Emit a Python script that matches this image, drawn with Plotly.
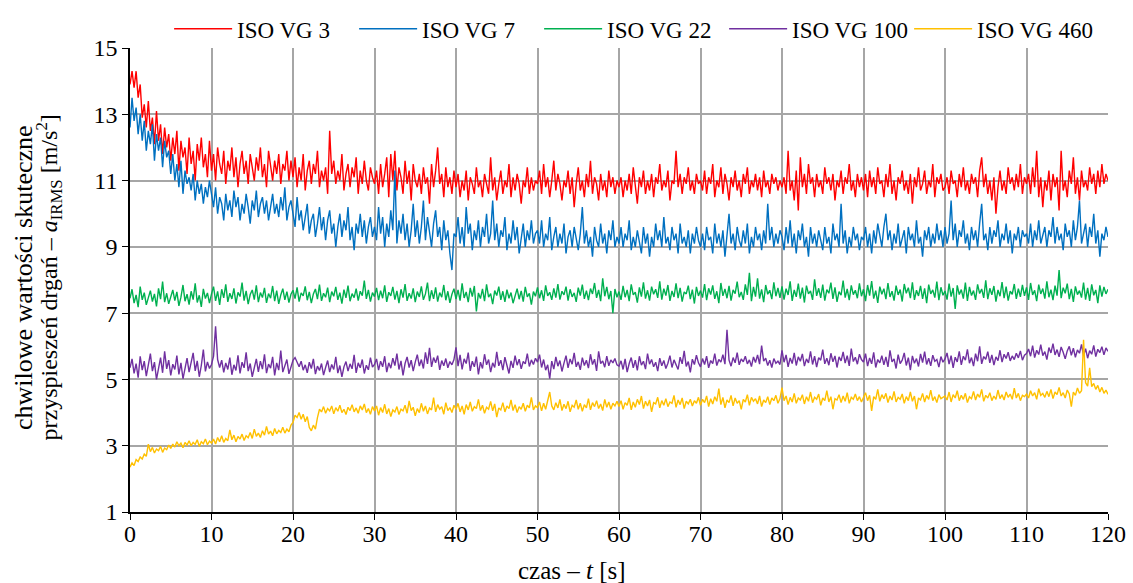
import numpy as np
import plotly.graph_objects as go

# Sampling step of the RMS acceleration records [s]
DT = 0.25

# ISO VG 3
vg3 = [
    13.9, 14.3, 13.8, 14.3, 13.5, 13.9, 12.9, 13.3, 12.6, 13.4,
    12.5, 12.9, 12.1, 13.1, 12.2, 12.7, 11.8, 12.6, 12.0, 12.4,
    11.6, 12.3, 11.8, 12.5, 11.3, 12.2, 11.7, 12.0, 11.2, 12.3,
    11.5, 11.9, 11.0, 12.1, 11.6, 12.3, 11.4, 11.8, 11.1, 12.2,
    11.3, 11.8, 11.0, 12.0, 11.5, 11.2, 11.9, 10.9, 11.6, 11.3,
    12.0, 11.1, 11.7, 10.8, 11.5, 11.9, 11.2, 11.6, 10.9, 11.8,
    11.4, 11.0, 11.7, 11.3, 12.0, 11.1, 11.5, 10.8, 11.9, 11.4,
    11.0, 11.6, 11.2, 11.8, 10.9, 11.5, 11.3, 11.9, 11.0, 11.6,
    11.1, 11.7, 10.8, 11.4, 11.0, 11.8, 10.7, 11.3, 11.6, 10.9,
    11.5, 11.2, 11.9, 10.8, 11.3, 11.0, 11.4, 10.6, 12.5, 11.2,
    11.6, 10.9, 11.3, 11.0, 11.8, 10.7, 11.2, 11.5, 10.8, 11.4,
    11.1, 11.7, 10.6, 11.3, 10.9, 11.6, 11.0, 10.7, 11.4, 11.1,
    10.9, 11.3, 10.6, 11.5, 10.8, 11.2, 11.7, 10.5, 11.8, 11.0,
    11.9, 10.7, 11.4, 11.1, 10.6, 11.6, 10.9, 11.3, 10.4, 11.5,
    11.0, 10.8, 11.2, 10.6, 11.4, 10.9, 11.1, 10.3, 11.5, 10.8,
    11.3, 12.0, 10.9, 11.2, 10.5, 11.4, 10.8, 11.1, 10.6, 11.3,
    10.8, 11.2, 10.5, 11.0, 10.7, 11.3, 10.4, 11.1, 10.9, 10.6,
    11.4, 10.8, 11.0, 10.5, 11.2, 10.9, 10.6, 11.7, 10.7, 11.1,
    10.4, 10.9, 11.3, 10.6, 11.0, 10.8, 11.5, 10.5, 11.1, 10.7,
    11.2, 10.9, 10.3, 11.0, 10.8, 11.4, 10.6, 11.1, 10.7, 11.0,
    10.9, 11.3, 10.6, 11.5, 10.8, 11.1, 10.5, 11.0, 11.6, 10.7,
    11.2, 10.9, 10.4, 11.0, 10.8, 11.3, 10.6, 11.1, 10.2, 10.9,
    11.4, 10.7, 11.0, 10.5, 11.2, 10.8, 11.6, 10.6, 11.1, 10.9,
    10.4, 11.2, 10.7, 11.0, 10.5, 11.3, 10.8, 11.1, 10.6, 11.0,
    10.8, 11.1, 10.5, 11.0, 10.7, 11.2, 10.6, 11.4, 10.9, 10.3,
    11.1, 10.8, 11.3, 10.6, 11.0, 10.7, 11.2, 10.5, 11.1, 10.9,
    11.5, 10.7, 11.0, 10.8, 11.3, 10.4, 11.0, 10.9, 11.9, 10.8,
    11.2, 10.6, 11.1, 10.9, 11.4, 10.7, 11.0, 10.6, 11.2, 10.9,
    11.0, 10.7, 11.3, 10.6, 11.1, 10.9, 11.5, 10.5, 11.0, 10.8,
    11.4, 10.6, 11.2, 10.9, 10.4, 11.1, 10.8, 11.3, 10.7, 11.0,
    10.5, 11.2, 10.9, 11.4, 10.6, 11.0, 10.8, 11.2, 10.7, 11.1,
    10.5, 11.3, 10.8, 11.0, 10.6, 11.2, 10.9, 11.1, 10.7, 11.0,
    10.8, 11.1, 10.6, 11.9, 10.7, 11.0, 10.4, 11.3, 10.1, 11.7,
    10.8, 11.2, 10.6, 11.5, 10.9, 11.1, 10.5, 11.2, 10.8, 11.0,
    10.6, 11.4, 10.9, 11.1, 10.7, 11.2, 10.4, 11.0, 10.8, 11.3,
    10.6, 11.1, 10.9, 11.5, 10.7, 11.0, 10.5, 11.2, 10.8, 11.1,
    10.7, 11.2, 10.5, 11.3, 10.8, 11.1, 10.6, 11.4, 10.9, 11.0,
    10.5, 11.2, 10.8, 11.5, 10.6, 11.0, 10.4, 11.1, 10.9, 11.3,
    10.7, 11.0, 10.6, 11.2, 10.3, 11.1, 10.8, 11.4, 10.7, 10.9,
    11.3, 10.6, 11.0, 10.8, 11.5, 10.5, 11.1, 10.9, 11.2, 10.7,
    10.8, 11.1, 10.6, 11.3, 10.9, 11.0, 10.5, 11.2, 10.8, 11.4,
    10.7, 11.0, 10.6, 11.2, 10.9, 11.1, 10.5, 11.3, 11.7, 10.8,
    11.2, 10.6, 11.0, 10.4, 11.1, 10.0, 10.8, 11.3, 10.7, 11.0,
    10.6, 11.4, 10.9, 11.1, 10.7, 11.2, 10.8, 11.5, 10.6, 11.1,
    10.9, 11.2, 10.6, 11.4, 10.8, 11.9, 10.5, 11.1, 10.2, 11.0,
    10.7, 11.3, 10.4, 11.2, 10.8, 11.1, 10.1, 11.9, 10.7, 11.0,
    10.5, 11.3, 10.9, 11.7, 10.6, 11.1, 10.4, 11.3, 10.8, 11.0,
    10.7, 11.4, 10.9, 11.2, 10.6, 11.3, 10.8, 11.5, 10.9, 11.2,
    11.0,
]

# ISO VG 7
vg7 = [
    12.6, 13.5, 12.8, 13.2, 12.4, 13.0, 12.2, 12.8, 11.9, 12.5,
    12.1, 12.7, 11.6, 12.4, 11.9, 12.3, 11.4, 12.2, 11.7, 11.9,
    11.2, 11.8, 11.0, 11.5, 10.8, 11.6, 10.6, 11.3, 10.9, 11.1,
    10.7, 11.2, 10.4, 11.0, 10.6, 10.9, 10.3, 10.8, 10.5, 11.0,
    10.6, 10.2, 10.8, 10.0, 10.5, 10.3, 9.8, 10.6, 10.1, 10.4,
    9.9, 10.7, 10.2, 10.5, 9.8, 10.3, 10.0, 10.6, 10.2, 9.7,
    10.4, 10.1, 10.7, 9.9, 10.3, 10.5, 10.0, 10.4, 9.8, 10.2,
    10.6, 10.0, 10.3, 9.9, 10.5, 10.1, 10.8, 9.8, 10.2, 10.4,
    10.0, 9.6, 10.5, 9.8, 10.1, 9.5, 9.9, 10.3, 9.4, 9.8,
    10.0, 9.3, 9.7, 10.2, 9.5, 9.9, 9.2, 9.8, 10.1, 9.4,
    9.7, 9.0, 9.6, 10.0, 9.3, 9.8, 9.5, 10.2, 9.2, 9.6,
    8.9, 9.7, 9.4, 10.0, 9.3, 9.8, 9.1, 9.6, 9.9, 9.3,
    9.6, 9.2, 10.2, 9.4, 9.9, 9.0, 9.7, 9.3, 10.1, 9.5,
    11.3, 9.1, 9.8, 9.4, 10.0, 9.2, 9.7, 9.0, 9.5, 10.3,
    9.3, 9.8, 9.1, 9.6, 10.4, 9.2, 9.9, 9.4, 9.0, 9.7,
    10.1, 9.3, 9.6, 8.9, 9.8, 9.2, 9.5, 8.8, 8.3, 9.4,
    9.3, 9.9, 9.1, 9.6, 9.0, 10.2, 9.4, 9.7, 8.9, 9.5,
    9.2, 9.8, 9.0, 9.6, 9.3, 10.0, 9.1, 9.4, 10.4, 9.2,
    9.7, 9.0, 9.5, 9.3, 9.9, 8.9, 9.4, 9.1, 9.8, 9.2,
    9.6, 8.8, 9.3, 9.7, 9.0, 9.5, 9.2, 9.8, 9.1, 9.4,
    9.5, 9.1, 9.8, 9.0, 9.4, 9.2, 9.9, 8.9, 9.3, 9.6,
    9.0, 9.4, 9.1, 9.7, 8.8, 9.3, 9.5, 9.0, 9.6, 9.2,
    8.9, 9.4, 10.2, 9.1, 9.5, 9.0, 9.3, 8.7, 9.6, 9.2,
    9.0, 9.7, 9.1, 9.4, 8.8, 9.5, 9.2, 9.8, 9.0, 9.3,
    9.1, 9.6, 9.0, 9.4, 9.2, 9.8, 8.9, 9.3, 9.0, 9.5,
    9.2, 8.8, 9.6, 9.1, 9.4, 8.7, 9.3, 9.0, 9.7, 9.2,
    9.5, 9.0, 9.9, 9.1, 9.3, 8.9, 9.6, 9.2, 9.4, 8.8,
    9.7, 9.1, 9.3, 9.0, 9.5, 8.8, 9.4, 9.1, 9.6, 9.2,
    9.0, 9.4, 8.9, 9.6, 9.2, 9.3, 8.8, 9.7, 9.1, 9.4,
    9.0, 9.5, 8.7, 9.3, 10.0, 9.1, 9.4, 8.9, 9.6, 9.2,
    9.0, 9.5, 9.1, 9.7, 8.8, 9.3, 9.0, 9.6, 9.2, 9.4,
    8.9, 9.5, 9.1, 10.3, 9.2, 9.6, 9.0, 9.4, 9.1, 9.5,
    9.3, 8.9, 9.6, 9.1, 9.8, 9.0, 9.4, 8.8, 9.5, 9.2,
    9.7, 9.0, 9.3, 8.7, 9.6, 9.1, 9.4, 9.0, 9.5, 9.2,
    8.9, 9.6, 9.1, 9.3, 8.8, 9.7, 9.2, 9.4, 9.0, 10.3,
    9.1, 9.5, 8.8, 9.3, 9.0, 9.6, 9.2, 9.4, 8.9, 9.3,
    9.2, 9.6, 9.0, 9.4, 8.8, 9.5, 9.1, 9.7, 9.3, 9.0,
    9.6, 10.0, 9.2, 9.5, 8.9, 9.4, 9.1, 9.7, 9.0, 9.3,
    9.5, 8.8, 9.6, 9.2, 9.4, 9.0, 9.8, 9.1, 9.3, 8.7,
    9.5, 9.2, 9.6, 9.0, 9.4, 9.1, 9.7, 9.2, 9.5, 9.0,
    9.6, 9.1, 9.4, 10.4, 9.2, 9.7, 9.0, 9.5, 9.3, 9.8,
    9.1, 9.4, 8.9, 9.6, 9.2, 9.5, 9.0, 9.7, 10.3, 9.2,
    9.4, 8.9, 9.6, 9.1, 9.5, 9.3, 9.8, 9.0, 9.4, 9.2,
    9.7, 9.1, 9.5, 8.8, 9.4, 9.2, 9.6, 9.0, 9.5, 9.3,
    9.4, 9.1, 9.7, 9.0, 9.5, 9.2, 9.8, 9.1, 9.4, 9.6,
    9.0, 9.5, 9.3, 9.9, 9.1, 9.6, 9.2, 9.4, 8.9, 9.7,
    9.3, 9.5, 9.0, 9.8, 9.2, 9.6, 10.4, 9.1, 9.4, 9.7,
    9.0, 9.6, 9.3, 10.0, 9.1, 9.5, 8.7, 9.4, 9.2, 9.6,
    9.3,
]

# ISO VG 22
vg22 = [
    7.45, 7.72, 7.30, 7.55, 7.18, 7.80, 7.40, 7.62, 7.25, 7.50,
    7.68, 7.35, 7.58, 7.20, 7.75, 7.42, 7.95, 7.33, 7.60, 7.28,
    7.52, 7.70, 7.38, 7.64, 7.22, 7.48, 7.85, 7.36, 7.57, 7.26,
    7.66, 7.41, 7.90, 7.32, 7.54, 7.19, 7.73, 7.44, 7.61, 7.30,
    7.58, 7.80, 7.37, 7.66, 7.25, 7.72, 7.46, 7.87, 7.34, 7.60,
    7.43, 7.75, 7.29, 7.63, 7.50, 7.92, 7.38, 7.67, 7.27, 7.56,
    7.70, 7.41, 7.84, 7.33, 7.62, 7.47, 7.76, 7.31, 7.59, 7.45,
    7.82, 7.36, 7.68, 7.28, 7.55, 7.74, 7.40, 7.65, 7.32, 7.57,
    7.69, 7.44, 7.78, 7.35, 7.61, 7.52, 7.81, 7.39, 7.64, 7.30,
    7.58, 7.73, 7.42, 7.86, 7.37, 7.60, 7.48, 7.77, 7.33, 7.65,
    7.51, 7.79, 7.40, 7.62, 7.29, 7.71, 7.46, 7.83, 7.36, 7.59,
    7.47, 7.74, 7.38, 7.66, 7.53, 7.98, 7.43, 7.70, 7.35, 7.62,
    7.50, 7.76, 7.39, 7.68, 7.45, 7.84, 7.34, 7.63, 7.52, 7.79,
    7.41, 7.67, 7.30, 7.72, 7.47, 7.88, 7.37, 7.60, 7.44, 7.75,
    7.33, 7.65, 7.49, 7.81, 7.40, 7.58, 7.92, 7.36, 7.69, 7.43,
    7.78, 7.35, 7.62, 7.48, 7.85, 7.39, 7.66, 7.31, 7.57, 7.74,
    7.42, 7.70, 7.38, 7.90, 7.46, 7.64, 7.33, 7.76, 7.50, 7.82,
    7.05, 7.61, 7.44, 7.73, 7.36, 7.87, 7.48, 7.59, 7.27, 7.68,
    7.53, 7.80, 7.40, 7.66, 7.34, 7.71, 7.45, 7.62, 7.30, 7.57,
    7.74, 7.42, 7.67, 7.35, 7.79, 7.49, 7.60, 7.26, 7.65, 7.51,
    7.78, 7.45, 7.69, 7.37, 7.84, 7.52, 7.63, 7.40, 7.75, 7.47,
    7.88, 7.41, 7.66, 7.55, 7.80, 7.38, 7.72, 7.49, 7.61, 7.34,
    7.77, 7.53, 7.86, 7.43, 7.68, 7.39, 7.74, 7.58, 7.91, 7.46,
    7.70, 7.36, 8.05, 7.51, 7.79, 7.42, 7.67, 7.00, 7.73, 7.48,
    7.65, 7.40, 7.82, 7.48, 7.70, 7.36, 7.87, 7.55, 7.63, 7.32,
    7.78, 7.50, 7.93, 7.44, 7.69, 7.38, 7.80, 7.57, 7.72, 7.46,
    7.96, 7.41, 7.74, 7.53, 7.85, 7.37, 7.67, 7.49, 7.90, 7.45,
    7.76, 7.35, 7.64, 7.58, 7.83, 7.42, 7.71, 7.29, 7.79, 7.52,
    7.68, 7.47, 7.88, 7.39, 7.75, 7.56, 7.84, 7.43, 7.66, 7.30,
    7.91, 7.52, 7.73, 7.45, 7.82, 7.38, 7.70, 7.59, 7.95, 7.48,
    7.64, 7.40, 7.87, 7.55, 8.22, 7.36, 7.79, 7.50, 8.05, 7.44,
    7.72, 7.33, 7.85, 7.57, 7.69, 7.42, 7.93, 7.51, 7.76, 7.46,
    7.81, 7.41, 7.74, 7.55, 7.96, 7.37, 7.70, 7.49, 7.89, 7.44,
    7.77, 7.32, 7.83, 7.58, 7.67, 7.40, 8.02, 7.52, 7.75, 7.46,
    7.86, 7.38, 7.71, 7.60, 7.92, 7.43, 7.78, 7.34, 7.65, 7.54,
    7.98, 7.47, 7.73, 7.39, 7.84, 7.56, 7.69, 7.45, 7.90, 7.51,
    7.72, 7.36, 7.85, 7.53, 7.97, 7.44, 7.68, 7.31, 7.80, 7.57,
    7.74, 7.42, 7.91, 7.49, 7.66, 7.38, 7.83, 7.55, 7.71, 7.35,
    7.88, 7.60, 7.77, 7.45, 7.93, 7.40, 7.69, 7.52, 7.82, 7.43,
    7.75, 7.30, 7.86, 7.58, 7.70, 7.47, 7.95, 7.39, 7.78, 7.54,
    7.67, 7.41, 7.89, 7.50, 7.76, 7.13, 7.84, 7.56, 7.71, 7.44,
    7.92, 7.37, 7.79, 7.53, 7.68, 7.40, 7.87, 7.59, 7.73, 7.46,
    7.99, 7.42, 7.75, 7.55, 7.82, 7.35, 7.70, 7.51, 7.94, 7.45,
    7.80, 7.38, 7.66, 7.57, 7.88, 7.43, 7.74, 7.49, 7.85, 7.52,
    7.78, 7.40, 7.91, 7.55, 7.69, 7.36, 7.86, 7.58, 7.74, 7.44,
    7.96, 7.48, 7.71, 7.39, 7.83, 7.53, 8.30, 7.45, 7.77, 7.60,
    7.89, 7.42, 7.73, 7.34, 7.81, 7.56, 7.68, 7.47, 7.92, 7.41,
    7.76, 7.37, 7.87, 7.54, 7.70, 7.30, 7.84, 7.50, 7.79, 7.58,
    7.72,
]

# ISO VG 100
vg100 = [
    5.35, 5.62, 5.18, 5.48, 5.05, 5.70, 5.28, 5.55, 5.10, 5.44,
    5.78, 5.25, 5.52, 5.00, 5.40, 5.66, 5.20, 5.85, 5.32, 5.58,
    5.12, 5.46, 5.30, 5.72, 5.15, 5.50, 5.02, 5.38, 5.64, 5.22,
    5.47, 5.80, 5.26, 5.56, 5.08, 5.42, 5.90, 5.24, 5.53, 5.33,
    5.45, 5.70, 6.60, 5.60, 5.36, 5.58, 5.21, 5.50, 5.30, 5.66,
    5.14, 5.44, 5.27, 5.73, 5.18, 5.52, 5.35, 5.82, 5.25, 5.48,
    5.08, 5.40, 5.62, 5.23, 5.55, 5.31, 5.76, 5.19, 5.46, 5.34,
    5.68, 5.12, 5.50, 5.28, 5.87, 5.22, 5.42, 5.60, 5.17, 5.39,
    5.58, 5.66, 5.49, 5.38, 5.55, 5.28, 5.44, 5.20, 5.52, 5.33,
    5.62, 5.16, 5.40, 5.27, 5.48, 5.13, 5.36, 5.57, 5.22, 5.45,
    5.30, 5.68, 5.19, 5.42, 5.08, 5.38, 5.54, 5.25, 5.47, 5.32,
    5.74, 5.20, 5.50, 5.35, 5.60, 5.18, 5.43, 5.29, 5.66, 5.37,
    5.45, 5.62, 5.28, 5.55, 5.38, 5.70, 5.22, 5.50, 5.34, 5.64,
    5.42, 5.78, 5.30, 5.56, 5.12, 5.48, 5.68, 5.36, 5.58, 5.25,
    5.52, 5.75, 5.40, 5.60, 5.33, 5.82, 5.47, 5.95, 5.38, 5.66,
    5.50, 5.72, 5.29, 5.57, 5.41, 5.63, 5.35, 5.54, 5.44, 5.60,
    5.97, 5.40, 5.74, 5.30, 5.62, 5.48, 5.81, 5.26, 5.55, 5.38,
    5.69, 5.15, 5.52, 5.33, 5.76, 5.44, 5.60, 5.22, 5.50, 5.36,
    5.83, 5.41, 5.58, 5.28, 5.67, 5.46, 5.18, 5.56, 5.35, 5.72,
    5.43, 5.61, 5.32, 5.54, 5.47, 5.78, 5.39, 5.59, 5.45, 5.64,
    5.52, 5.75, 5.36, 5.60, 5.28, 5.44, 5.02, 5.55, 5.31, 5.68,
    5.40, 5.57, 5.24, 5.49, 5.72, 5.35, 5.62, 5.46, 5.80, 5.38,
    5.53, 5.29, 5.66, 5.42, 5.58, 5.34, 5.76, 5.45, 5.61, 5.26,
    5.85, 5.48, 5.56, 5.37, 5.70, 5.41, 5.59, 5.50, 5.63, 5.44,
    5.40, 5.56, 5.30, 5.62, 5.22, 5.48, 5.66, 5.35, 5.58, 5.27,
    5.70, 5.43, 5.55, 5.31, 5.78, 5.46, 5.60, 5.38, 5.52, 5.25,
    5.64, 5.41, 5.57, 5.33, 5.49, 5.72, 5.36, 5.59, 5.44, 5.30,
    5.67, 5.47, 5.86, 5.39, 5.54, 5.21, 5.61, 5.45, 5.73, 5.50,
    5.38, 5.63, 5.45, 5.70, 5.35, 5.57, 5.48, 5.78, 5.42, 5.60,
    5.52, 5.75, 5.46, 6.50, 5.58, 5.40, 5.66, 5.50, 5.81, 5.44,
    5.62, 5.53, 5.70, 5.47, 5.59, 5.39, 5.68, 5.51, 5.74, 5.46,
    6.02, 5.55, 5.64, 5.42, 5.58, 5.36, 5.63, 5.49, 5.55, 5.45,
    5.88, 5.52, 5.74, 5.38, 5.65, 5.48, 5.80, 5.42, 5.68, 5.55,
    5.77, 5.40, 5.62, 5.50, 5.85, 5.45, 5.70, 5.37, 5.66, 5.58,
    5.90, 5.47, 5.64, 5.43, 5.79, 5.53, 5.71, 5.36, 5.68, 5.56,
    5.83, 5.49, 5.72, 5.41, 5.93, 5.54, 5.67, 5.46, 5.76, 5.60,
    5.52, 5.78, 5.40, 5.65, 5.47, 5.82, 5.36, 5.60, 5.50, 5.72,
    5.44, 5.68, 5.38, 5.88, 5.53, 5.62, 5.33, 5.75, 5.48, 5.58,
    5.80, 5.42, 5.66, 5.28, 5.71, 5.49, 5.63, 5.39, 5.77, 5.51,
    5.84, 5.45, 5.64, 5.41, 5.73, 5.55, 5.60, 5.37, 5.69, 5.52,
    5.62, 5.80, 5.46, 5.72, 5.35, 5.67, 5.53, 5.85, 5.44, 5.70,
    5.58, 5.91, 5.49, 5.66, 5.40, 5.78, 5.55, 6.00, 5.47, 5.69,
    5.61, 5.84, 5.50, 5.74, 5.43, 5.68, 5.57, 5.88, 5.52, 5.76,
    5.63, 5.82, 5.56, 5.71, 5.60, 5.79, 5.65, 5.86, 5.58, 5.73,
    5.78, 5.92, 5.70, 6.02, 5.66, 5.88, 5.75, 6.05, 5.72, 5.84,
    5.60, 5.96, 5.80, 6.08, 5.74, 5.90, 5.68, 5.98, 5.82, 5.62,
    5.86, 6.00, 5.73, 5.94, 5.67, 5.89, 5.79, 6.06, 5.71, 5.93,
    5.64, 5.87, 5.76, 6.03, 5.69, 5.91, 5.81, 5.99, 5.74, 5.95,
    5.85,
]

# ISO VG 460
vg460 = [
    2.35, 2.48, 2.40, 2.58, 2.52, 2.66, 2.60, 2.75, 2.68, 3.05,
    2.82, 2.95, 2.78, 2.90, 2.85, 2.98, 2.80, 2.93, 2.88, 3.02,
    2.92, 3.05, 2.96, 3.12, 3.00, 3.08, 2.94, 3.10, 3.02, 3.15,
    3.00, 3.10, 3.04, 3.18, 2.98, 3.12, 3.06, 3.20, 3.03, 3.14,
    3.08, 3.20, 3.05, 3.25, 3.12, 3.30, 3.10, 3.22, 3.15, 3.48,
    3.18, 3.32, 3.12, 3.28, 3.20, 3.35, 3.16, 3.30, 3.24, 3.40,
    3.22, 3.50, 3.28, 3.38, 3.25, 3.45, 3.32, 3.58, 3.35, 3.44,
    3.30, 3.52, 3.36, 3.46, 3.40, 3.56, 3.38, 3.50, 3.42, 3.62,
    3.70, 3.92, 3.85, 4.00, 3.80, 3.95, 3.72, 3.88, 3.55, 3.45,
    3.62, 3.50, 3.85, 4.10, 4.02, 4.18, 3.98, 4.12, 4.05, 4.20,
    3.96, 4.15, 4.04, 4.22, 4.00, 4.10, 3.94, 4.16, 4.06, 4.24,
    4.02, 4.14, 3.98, 4.20, 4.08, 4.26, 4.00, 4.12, 3.95, 4.18,
    4.05, 4.20, 3.92, 4.15, 4.00, 4.25, 3.96, 4.12, 3.88, 4.08,
    4.02, 4.18, 3.94, 4.10, 4.05, 4.22, 3.98, 4.35, 4.06, 4.16,
    3.90, 4.12, 4.00, 4.28, 4.04, 4.20, 3.96, 4.14, 4.08, 4.45,
    4.02, 4.24, 4.10, 4.18, 3.95, 4.30, 4.06, 4.15, 4.00, 4.22,
    4.10, 4.28, 4.02, 4.20, 3.95, 4.24, 4.08, 4.32, 4.04, 4.18,
    4.12, 4.40, 4.06, 4.22, 3.98, 4.16, 4.10, 4.34, 4.05, 4.26,
    3.86, 4.14, 4.08, 4.30, 4.02, 4.20, 4.12, 4.38, 4.06, 4.24,
    4.00, 4.18, 4.10, 4.28, 4.04, 4.22, 4.14, 4.46, 4.08, 4.20,
    4.15, 4.32, 4.05, 4.28, 4.10, 4.36, 4.62, 4.20, 4.08, 4.30,
    4.14, 4.40, 4.06, 4.25, 4.12, 4.34, 4.02, 4.22, 4.16, 4.38,
    4.10, 4.28, 4.04, 4.24, 4.14, 4.42, 4.08, 4.30, 4.18, 4.36,
    4.12, 4.26, 4.06, 4.40, 4.16, 4.32, 4.10, 4.28, 4.20, 4.34,
    4.18, 4.36, 4.10, 4.30, 4.22, 4.44, 4.08, 4.32, 4.16, 4.40,
    4.24, 4.50, 4.12, 4.34, 4.20, 4.38, 4.02, 4.30, 4.26, 4.46,
    4.14, 4.36, 4.22, 4.42, 4.18, 4.32, 4.28, 4.52, 4.16, 4.38,
    4.24, 4.44, 4.12, 4.34, 4.26, 4.40, 4.20, 4.36, 4.28, 4.46,
    4.22, 4.40, 4.30, 4.50, 4.18, 4.42, 4.26, 4.48, 4.34, 4.72,
    4.24, 4.46, 4.14, 4.38, 4.30, 4.52, 4.20, 4.44, 4.28, 4.36,
    4.10, 4.40, 4.32, 4.54, 4.22, 4.46, 4.34, 4.42, 4.26, 4.50,
    4.18, 4.38, 4.30, 4.48, 4.24, 4.44, 4.36, 4.52, 4.28, 4.42,
    4.75, 4.36, 4.50, 4.24, 4.46, 4.32, 4.58, 4.28, 4.44, 4.38,
    4.54, 4.26, 4.48, 4.34, 4.62, 4.30, 4.46, 4.40, 4.56, 4.22,
    4.44, 4.36, 4.66, 4.32, 4.48, 4.10, 4.42, 4.38, 4.54, 4.30,
    4.50, 4.34, 4.60, 4.28, 4.46, 4.40, 4.56, 4.36, 4.48, 4.32,
    4.44, 4.60, 4.36, 4.52, 4.05, 4.48, 4.40, 4.70, 4.34, 4.54,
    4.42, 4.58, 4.30, 4.50, 4.38, 4.64, 4.32, 4.46, 4.40, 4.56,
    4.28, 4.48, 4.36, 4.62, 4.34, 4.50, 4.10, 4.44, 4.38, 4.58,
    4.32, 4.52, 4.40, 4.68, 4.36, 4.48, 4.30, 4.54, 4.42, 4.46,
    4.50, 4.38, 4.62, 4.32, 4.54, 4.44, 4.66, 4.36, 4.52, 4.40,
    4.58, 4.30, 4.48, 4.42, 4.64, 4.38, 4.56, 4.46, 4.70, 4.34,
    4.52, 4.44, 4.60, 4.36, 4.50, 4.40, 4.68, 4.42, 4.54, 4.38,
    4.62, 4.46, 4.56, 4.40, 4.74, 4.44, 4.58, 4.36, 4.52, 4.48,
    4.56, 4.44, 4.66, 4.50, 4.60, 4.40, 4.72, 4.52, 4.58, 4.46,
    4.64, 4.48, 4.70, 4.42, 4.62, 4.54, 4.76, 4.50, 4.60, 4.44,
    4.68, 4.56, 4.18, 4.62, 4.52, 4.74, 4.58, 4.66, 6.20, 4.90,
    4.80, 5.35, 4.78, 4.88, 4.70, 4.82, 4.62, 4.76, 4.58, 4.68,
    4.55,
]

series_names = ["ISO VG 3", "ISO VG 7", "ISO VG 22", "ISO VG 100", "ISO VG 460"]
series_values = [vg3, vg7, vg22, vg100, vg460]
series_colors = ["#FF0000", "#0070C0", "#00B050", "#7030A0", "#FFC000"]

x_ticks = list(range(0, 121, 10))
y_ticks = list(range(1, 16, 2))

y_title_lines = [
    "chwilowe wartości skuteczne",
    "przyspieszeń drgań – <i>a</i><sub>IRMS</sub> [m/s<sup>2</sup>]",
]
x_title = "czas – <i>t</i> [s]"

FONT = "Liberation Serif"
TICK_FS = 24
LEGEND_FS = 23
TITLE_FS = 25

fig = go.Figure()
for name, vals, color in zip(series_names, series_values, series_colors):
    t = np.arange(len(vals)) * DT
    fig.add_trace(go.Scatter(
        x=t, y=vals, name=name, mode="lines",
        line=dict(color=color, width=1.4),
    ))

# Two-line vertical axis title, one rotated annotation per line
for xpos, size, line_text in zip([-0.109, -0.083], [26, 24], y_title_lines):
    fig.add_annotation(
        text=line_text, textangle=-90,
        xref="paper", yref="paper", x=xpos, y=0.505,
        xanchor="center", yanchor="middle", showarrow=False,
        font=dict(family=FONT, size=size, color="black"),
    )

# Horizontal axis title
fig.add_annotation(
    text=x_title, xref="paper", yref="paper", x=0.452, y=-0.127,
    xanchor="center", yanchor="middle", showarrow=False,
    font=dict(family=FONT, size=TITLE_FS, color="black"),
)

fig.update_layout(
    width=1133, height=583,
    margin=dict(l=130, r=25, t=48, b=71, autoexpand=False),
    paper_bgcolor="white", plot_bgcolor="white",
    font=dict(family=FONT, size=TICK_FS, color="black"),
    showlegend=True,
    legend=dict(
        orientation="h", x=0.040, xanchor="left",
        y=0.995, yanchor="bottom",
        font=dict(family=FONT, size=LEGEND_FS, color="black"),
        itemwidth=58, entrywidth=112, entrywidthmode="pixels",
        bgcolor="rgba(0,0,0,0)",
    ),
    xaxis=dict(
        range=[0, 120], tickvals=x_ticks, ticktext=[str(v) for v in x_ticks],
        showgrid=True, gridcolor="#a6a6a6", gridwidth=1.5,
        showline=True, linecolor="black", linewidth=1.5,
        ticks="outside", ticklen=6, tickcolor="black",
        ticklabelstandoff=-7,
        zeroline=False,
    ),
    yaxis=dict(
        range=[1, 15], tickvals=y_ticks, ticktext=[str(v) for v in y_ticks],
        showgrid=True, gridcolor="#a6a6a6", gridwidth=1.5,
        showline=True, linecolor="black", linewidth=1.5,
        ticks="outside", ticklen=6, tickcolor="black",
        zeroline=False,
    ),
)

fig.write_html("out.html")
